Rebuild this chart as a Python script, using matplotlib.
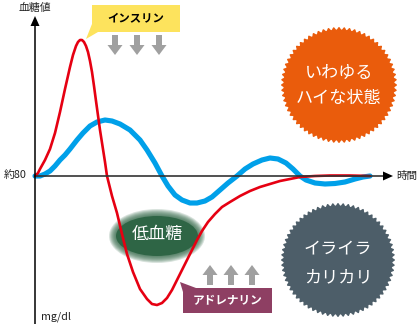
import numpy as np
import matplotlib
matplotlib.use("Agg")
import matplotlib.pyplot as plt
from matplotlib.patches import Polygon, Ellipse, FancyArrow

plt.rcParams['font.family'] = ['Noto Sans CJK JP', 'DejaVu Sans']

# ---- data (time units from y-axis, glucose relative to baseline 約80) ----
red_t = [0, 3, 5, 10, 15, 20, 25, 30, 35, 38, 41, 43, 45, 47, 49, 51, 53, 55, 57,
         59, 61, 65, 70, 72, 77, 82, 87, 92, 98, 105, 112, 117, 122, 127, 132,
         137, 142, 147, 152, 157, 162, 167, 173, 180, 187, 195, 205, 215, 225,
         235, 245, 255, 265, 280, 295, 315, 335]
red_g = [0, 3, 7, 16, 27, 43, 64, 87, 109, 121, 130, 134, 136, 136, 134, 130,
         124, 115, 104, 90, 75, 46, 14, 0, -20, -37, -58, -78, -96, -113, -123,
         -128, -129, -127, -122, -114, -104, -94, -84, -74, -64, -55, -46, -38,
         -31, -26, -20, -15, -11, -8, -5, -3, -1, 0, 0.5, 0.5, 0]
blue_t = [0, 5, 10, 15, 20, 25, 30, 35, 42, 48, 55, 62, 70, 77, 85, 95, 105, 112,
          120, 127, 133, 140, 147, 155, 162, 170, 177, 185, 193, 202, 210, 218, 227,
          235, 243, 251, 258, 265, 271, 280, 290, 300, 310, 320, 328, 335]
blue_g = [0, 0, 2, 5, 10, 16, 21, 27, 36, 43, 50, 54, 56, 55, 52, 46, 36, 26, 13,
          0, -10, -19, -24, -27, -27, -25, -21, -14, -7, 0, 7, 12, 16, 18, 17, 13,
          7, 0, -4, -7, -8, -7.5, -6, -3, -1, 0]

y_label = "血糖値"
x_label = "時間"
base_label = "約80"
unit_label = "mg/dl"

# ---- figure ----
W, H = 420, 324
fig = plt.figure(figsize=(W / 100, H / 100), dpi=100)
ax = fig.add_axes([0, 0, 1, 1])
OX, OY = 35, 176
ax.set_xlim(-OX, W - OX)
ax.set_ylim(OY - H, OY)
ax.axis('off')


def P(x, y):
    return (x - OX, OY - y)


# scalloped circles
def scallop(cx, cy, R, color, n=68, amp=1.3):
    th = np.linspace(0, 2 * np.pi, 800)
    r = R - amp + amp * np.cos(n * th)
    c = P(cx, cy)
    xs = c[0] + r * np.cos(th)
    ys = c[1] + r * np.sin(th)
    ax.add_patch(Polygon(np.column_stack([xs, ys]), closed=True, fc=color, ec='none', zorder=1))


scallop(339, 85, 58, '#ea5c0c')
scallop(338, 260, 57, '#4d5e69')
ax.text(*P(339, 73), "いわゆる", color='white', fontsize=12.3, ha='center', va='center', zorder=5)
ax.text(*P(339, 98), "ハイな状態", color='white', fontsize=12.3, ha='center', va='center', zorder=5)
ax.text(*P(338, 248), "イライラ", color='white', fontsize=12.3, ha='center', va='center', zorder=5)
ax.text(*P(338, 277), "カリカリ", color='white', fontsize=12.3, ha='center', va='center', zorder=5)

# green glowing ellipse
gc = P(157, 236)
for i in range(7, 0, -1):
    ax.add_patch(Ellipse(gc, 82 + 2 * i, 40 + 2 * i, fc='#2e6545', ec='none', alpha=0.18, zorder=1.5))
ax.add_patch(Ellipse(gc, 82, 40, fc='#2e6545', ec='none', zorder=1.6))
ax.text(*P(157, 234), "低血糖", color='white', fontsize=12.3, ha='center', va='center', zorder=5)

# curves
ax.plot(blue_t, blue_g, color='#00a0e9', lw=3.7, solid_capstyle='round', solid_joinstyle='round', zorder=3)
ax.plot(red_t, red_g, color='#e60012', lw=1.9, solid_capstyle='round', solid_joinstyle='round', zorder=3.5)

# axes lines
ax.plot([0, 350], [0, 0], color='#333333', lw=1.2, zorder=4)
ax.add_patch(Polygon([P(383, 171.5), P(393, 176), P(383, 180.5)], closed=True, fc='black', ec='none', zorder=4))
ax.plot([0, 0], [OY - H, OY - 24], color='black', lw=1.1, zorder=4)
ax.add_patch(Polygon([P(30.5, 26), P(35, 16), P(39.5, 26)], closed=True, fc='black', ec='none', zorder=4))

ax.text(*P(35, 8), y_label, fontsize=7.8, ha='center', va='center', color='#222222')
ax.text(*P(396, 176), x_label, fontsize=7.6, ha='left', va='center', color='#222222')
ax.text(*P(27, 176), base_label, fontsize=7.8, ha='right', va='center', color='#222222')
ax.text(*P(41, 317), unit_label, fontsize=7.8, ha='left', va='center', color='#222222')

# insulin label
yel = '#fde35d'
ax.add_patch(Polygon([P(92, 5), P(180, 5), P(180, 32), P(98, 32), P(86, 39), P(92, 24)],
                     closed=True, fc=yel, ec='none', zorder=4))
ax.text(*P(136, 18), "インスリン", fontsize=8.2, fontweight='bold', ha='center', va='center', color='black', zorder=5)

# adrenaline label
pur = '#8e3f63'
ax.add_patch(Polygon([P(180, 282), P(196, 288), P(272, 288), P(272, 313), P(183, 313), P(183, 292)],
                     closed=True, fc=pur, ec='none', zorder=4))
ax.text(*P(228, 301), "アドレナリン", fontsize=8.4, fontweight='bold', ha='center', va='center', color='white', zorder=5)

# gray arrows
gray = '#a0a0a0'
for x in (115, 137, 159):
    s = P(x, 35)
    ax.add_patch(FancyArrow(s[0], s[1], 0, -20, width=6, head_width=15, head_length=10,
                            length_includes_head=True, fc=gray, ec='none', zorder=4))
for x in (210, 231, 252):
    s = P(x, 285)
    ax.add_patch(FancyArrow(s[0], s[1], 0, 20, width=6, head_width=15, head_length=10,
                            length_includes_head=True, fc=gray, ec='none', zorder=4))

fig.savefig("out.png", dpi=100)
